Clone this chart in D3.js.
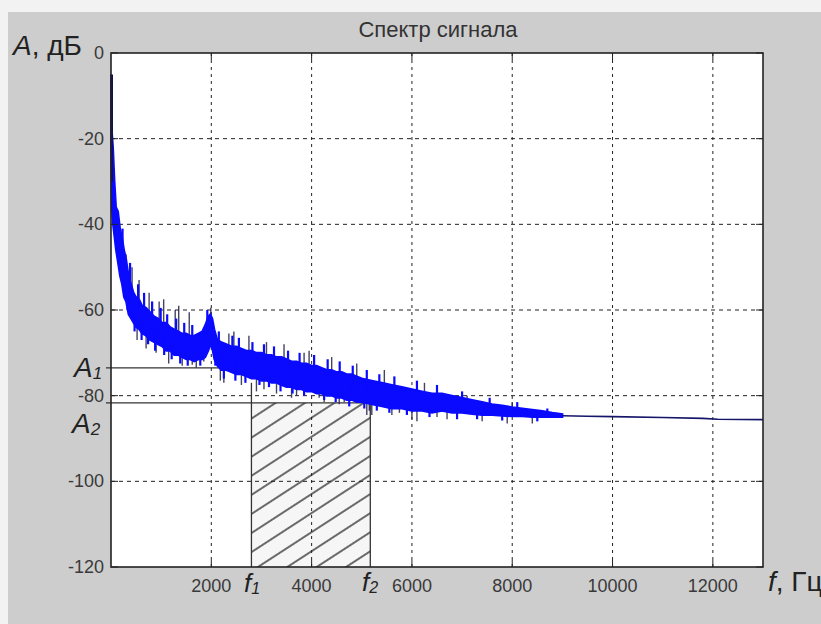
<!DOCTYPE html>
<html>
<head>
<meta charset="utf-8">
<script src="https://cdn.jsdelivr.net/npm/d3@7"></script>
<style>
  body { margin: 0; background: #ffffff; }
  svg text { font-family: "Liberation Sans", Arial, Helvetica, sans-serif; }
</style>
</head>
<body>
<div id="chart"></div>
<script>
// spectrum band: frequency (Hz), upper and lower edge (dB)
var specFreq = [0, 15, 40, 70, 100, 140, 180, 220, 260, 300, 350, 400, 450, 500, 560, 620, 700, 780, 860, 940,
  1020, 1100, 1180, 1260, 1340, 1420, 1500, 1580, 1660, 1740, 1820, 1880, 1940, 1980, 2020, 2060, 2120, 2200, 2300, 2400,
  2500, 2600, 2700, 2800, 2900, 3000, 3100, 3200, 3300, 3400, 3500, 3600, 3700, 3800, 3900, 4000, 4100, 4200, 4300, 4400,
  4500, 4600, 4700, 4800, 4900, 5000, 5200, 5400, 5600, 5800, 6000, 6200, 6400, 6600, 6800, 7000, 7200, 7400, 7600, 7800,
  8000, 8200, 8400, 8600, 8800, 9000];
var specHi = [-5, -18, -22, -30, -36, -37, -41, -43, -46, -48, -52, -54, -56, -57, -57.5, -59, -59.5, -60.5, -61.5, -62,
  -63, -63, -64, -64.5, -65, -65.5, -65.5, -66, -66, -65.5, -65, -63.5, -61.5, -61, -62, -64.5, -67, -67.5, -68, -68.5,
  -68.5, -69, -69.5, -69.5, -70, -70, -70.5, -70.5, -71, -71, -71.5, -72, -72, -72.5, -72.5, -73, -73, -73.5, -74, -74,
  -74.5, -74.5, -75, -75, -75.5, -76, -76.5, -77, -77.5, -78, -78.5, -79, -79.5, -79.5, -80, -80.5, -81, -81.5, -82, -82.3,
  -82.7, -83, -83.3, -83.6, -84, -84.3];
var specLo = [-22, -36, -40, -43, -46, -49, -52, -54, -57, -58, -61, -62, -63, -64, -64.5, -65.5, -66, -67, -67.5, -68,
  -68.5, -69.5, -69.5, -70.5, -70.5, -71, -71.5, -71.5, -72, -71.5, -71.5, -71, -69.5, -68, -69, -71.5, -73, -74, -74, -74.5,
  -75, -75, -75.5, -76, -76, -76.5, -76.5, -77, -77, -77.5, -78, -78, -78.5, -78.5, -79, -79, -79.5, -79.5, -80, -80,
  -80.5, -80.5, -81, -81, -81.5, -81.5, -82, -82.5, -83, -83, -83.5, -83.5, -84, -83.5, -84, -84, -84.3, -84.5, -84.5, -84.7,
  -84.8, -84.8, -85, -85, -85, -85];
// flat tail of the spectrum
var tailFreq = [9000, 9500, 10000, 11000, 11800, 12100, 13000];
var tailDb = [-84.7, -84.8, -84.9, -85.1, -85.3, -85.5, -85.6];
// short blue noise spikes at the band edges: frequency (Hz), tip (dB)
var noiseFreq = [230, 330, 380, 470, 540, 610, 660, 740, 820, 880, 990, 1060, 1120, 1210, 1300, 1380, 1460, 1530, 1620, 1780,
  1920, 2080, 2150, 2250, 2420, 2480, 2550, 2680, 2820, 2960, 3050, 3150, 3250, 3380, 3530, 3620, 3760, 3850, 4050, 4250,
  4320, 4480, 4560, 4750, 4820, 5050, 5100, 5300, 5350, 5550, 5650, 5900, 6100, 6350, 6500, 6900, 7000, 7300, 7550, 7800,
  8100, 8500, 8700];
var noiseDb = [-41, -60, -49, -65, -54, -67, -56, -68, -58, -69.5, -59.5, -70.5, -61, -71.5, -62, -72.5, -63, -73, -63.5, -73,
  -60, -73, -65, -76, -66, -76.5, -66.5, -77, -67.5, -77.5, -68, -78, -68.5, -79, -69.5, -79.5, -70, -80, -70.5, -81,
  -71.5, -81.5, -72, -82.5, -73, -83, -74, -83.5, -75, -84, -75.5, -84.5, -76.5, -85, -77.5, -85.5, -79, -85.5, -80.5, -85.8,
  -81.5, -86, -83];
// dark spikes sticking out of the band: frequency (Hz), tip (dB)
var spikeFreq = [300, 420, 520, 560, 700, 760, 900, 960, 1050, 1150, 1280, 1350, 1420, 1560, 1620, 1700, 1850, 1990, 2180, 2250,
  2350, 2450, 2600, 2750, 2900, 3050, 3100, 3300, 3450, 3600, 3700, 3850, 3950, 4150, 4250, 4400, 4550, 4650, 4900, 5100,
  5150, 5200, 5450, 5600, 5750, 6000, 6100, 6250, 6500, 6700, 7100, 7400, 7900, 8000, 8400];
var spikeDb = [-47, -50, -67, -53, -69, -56, -70, -58, -57.5, -72.5, -60, -59, -73, -60.5, -72.8, -73.5, -72, -59.5, -76.5, -77,
  -65.5, -65, -77.5, -66, -79, -78.5, -67.5, -79.5, -68, -80.5, -80, -70, -69.5, -80.5, -81.5, -71, -82, -81.5, -72.5, -84.5,
  -83.5, -84.5, -74, -84.5, -84, -85.5, -86, -77, -85, -85.5, -80, -86, -86.5, -81.5, -86.5];

var xTicks = [2000, 4000, 6000, 8000, 10000, 12000];
var yTicks = [0, -20, -40, -60, -80, -100, -120];
var f1 = 2800, f2 = 5170;
var A1 = -73.5, A2 = -81.7;

var W = 821, H = 624;
var pL = 111, pT = 53, pR = 763, pB = 567;

var svg = d3.select("#chart")
  .append("svg")
  .attr("width", W)
  .attr("height", H);

// grey figure background
svg.append("rect").attr("x", 0).attr("y", 0).attr("width", W).attr("height", H).attr("fill", "#f2f2f2");
svg.append("rect").attr("x", 8).attr("y", 12).attr("width", W - 8).attr("height", H - 12).attr("fill", "#cdcdcd");

var x = d3.scaleLinear().domain([0, 13000]).range([pL, pR]);
var y = d3.scaleLinear().domain([-120, 0]).range([pB, pT]);

svg.append("rect")
  .attr("x", pL).attr("y", pT)
  .attr("width", pR - pL).attr("height", pB - pT)
  .attr("fill", "#ffffff");

// hatch pattern for the f1..f2 band
var defs = svg.append("defs");
var pat = defs.append("pattern")
  .attr("id", "hatch")
  .attr("patternUnits", "userSpaceOnUse")
  .attr("width", 16).attr("height", 16)
  .attr("patternTransform", "rotate(-33)");
pat.append("rect").attr("width", 16).attr("height", 16).attr("fill", "#f6f6f6");
pat.append("line").attr("x1", -1).attr("x2", 17).attr("y1", 8).attr("y2", 8)
  .attr("stroke", "#2e2e2e").attr("stroke-width", 1.4);

svg.append("rect")
  .attr("x", x(f1)).attr("y", y(A2))
  .attr("width", x(f2) - x(f1)).attr("height", y(-120) - y(A2))
  .attr("fill", "url(#hatch)");

// grid
svg.append("g").selectAll("line")
  .data(xTicks).enter().append("line")
  .attr("x1", function(d) { return x(d); }).attr("x2", function(d) { return x(d); })
  .attr("y1", pT).attr("y2", pB)
  .attr("stroke", "#222").attr("stroke-width", 1)
  .style("stroke-dasharray", "3,4");
svg.append("g").selectAll("line")
  .data(yTicks.slice(1, -1)).enter().append("line")
  .attr("x1", pL).attr("x2", pR)
  .attr("y1", function(d) { return y(d); }).attr("y2", function(d) { return y(d); })
  .attr("stroke", "#222").attr("stroke-width", 1)
  .style("stroke-dasharray", "4,4");

// A1 / A2 and f1 / f2 marker lines
svg.append("line").attr("x1", pL - 5).attr("x2", x(2200)).attr("y1", y(A1)).attr("y2", y(A1))
  .attr("stroke", "#333").attr("stroke-width", 1.3);
svg.append("line").attr("x1", pL - 5).attr("x2", x(f2)).attr("y1", y(A2)).attr("y2", y(A2))
  .attr("stroke", "#333").attr("stroke-width", 1.3);
svg.append("line").attr("x1", x(f1)).attr("x2", x(f1)).attr("y1", y(-77)).attr("y2", pB)
  .attr("stroke", "#333").attr("stroke-width", 1.3);
svg.append("line").attr("x1", x(f2)).attr("x2", x(f2)).attr("y1", y(-80.5)).attr("y2", pB)
  .attr("stroke", "#333").attr("stroke-width", 1.3);

// spectrum
function bandMid(f) {
  var j = Math.min(d3.bisectLeft(specFreq, f), specFreq.length - 1);
  return (specHi[j] + specLo[j]) / 2;
}

svg.append("g").selectAll("line")
  .data(spikeFreq).enter().append("line")
  .attr("x1", function(d) { return x(d); }).attr("x2", function(d) { return x(d); })
  .attr("y1", function(d) { return y(bandMid(d)); })
  .attr("y2", function(d, i) { return y(spikeDb[i]); })
  .attr("stroke", "#23234a").attr("stroke-width", 1.4)
  .attr("opacity", 0.85);

var band = d3.area()
  .x(function(d, i) { return x(specFreq[i]); })
  .y0(function(d, i) { return y(specLo[i]); })
  .y1(function(d, i) { return y(specHi[i]); });

svg.append("path")
  .datum(specFreq)
  .attr("d", band)
  .attr("fill", "#0a0aff")
  .attr("stroke", "#0a0aff")
  .attr("stroke-width", 2);

svg.append("g").selectAll("line")
  .data(noiseFreq).enter().append("line")
  .attr("x1", function(d) { return x(d); }).attr("x2", function(d) { return x(d); })
  .attr("y1", function(d) { return y(bandMid(d)); })
  .attr("y2", function(d, i) { return y(noiseDb[i]); })
  .attr("stroke", "#0a0aff").attr("stroke-width", 2.2);

svg.append("path")
  .datum(tailFreq)
  .attr("d", d3.line()
    .x(function(d) { return x(d); })
    .y(function(d, i) { return y(tailDb[i]); }))
  .attr("fill", "none")
  .attr("stroke", "#15156a")
  .attr("stroke-width", 1.6);

// first bin: dark vertical stroke at f = 0
svg.append("line").attr("x1", pL + 1).attr("x2", pL + 1).attr("y1", y(-5)).attr("y2", y(-30))
  .attr("stroke", "#12124a").attr("stroke-width", 2);

// frame and inward ticks
svg.append("rect")
  .attr("x", pL).attr("y", pT)
  .attr("width", pR - pL).attr("height", pB - pT)
  .attr("fill", "none").attr("stroke", "#222").attr("stroke-width", 1.6);

var tickLen = 7;
xTicks.forEach(function(d) {
  svg.append("line").attr("x1", x(d)).attr("x2", x(d)).attr("y1", pB).attr("y2", pB - tickLen).attr("stroke", "#222");
  svg.append("line").attr("x1", x(d)).attr("x2", x(d)).attr("y1", pT).attr("y2", pT + tickLen).attr("stroke", "#222");
});
yTicks.forEach(function(d) {
  svg.append("line").attr("x1", pL).attr("x2", pL + tickLen).attr("y1", y(d)).attr("y2", y(d)).attr("stroke", "#222");
  svg.append("line").attr("x1", pR).attr("x2", pR - tickLen).attr("y1", y(d)).attr("y2", y(d)).attr("stroke", "#222");
});

// tick labels
svg.append("g").selectAll("text")
  .data(xTicks).enter().append("text")
  .attr("x", function(d) { return x(d); })
  .attr("y", pB + 25)
  .attr("text-anchor", "middle")
  .style("font-size", "18px")
  .style("fill", "#3a3a3a")
  .text(function(d) { return d; });

svg.append("g").selectAll("text")
  .data(yTicks).enter().append("text")
  .attr("x", pL - 7)
  .attr("y", function(d) { return y(d) + 6; })
  .attr("text-anchor", "end")
  .style("font-size", "18px")
  .style("fill", "#3a3a3a")
  .text(function(d) { return d; });

// title
svg.append("text")
  .attr("x", 438).attr("y", 37)
  .attr("text-anchor", "middle")
  .style("font-size", "22px")
  .style("fill", "#333")
  .text("Спектр сигнала");

// axis names
var yName = svg.append("text").attr("x", 13).attr("y", 55).style("font-size", "28px").style("fill", "#222");
yName.append("tspan").style("font-style", "italic").text("A");
yName.append("tspan").text(", дБ");

var xName = svg.append("text").attr("x", 768).attr("y", 591).style("font-size", "28px").style("fill", "#222");
xName.append("tspan").style("font-style", "italic").text("f");
xName.append("tspan").text(", Гц");

// A1, A2, f1, f2 marks
function mark(px, py, letter, sub, size) {
  var t = svg.append("text").attr("x", px).attr("y", py).style("font-size", size + "px").style("fill", "#222");
  t.append("tspan").style("font-style", "italic").text(letter);
  t.append("tspan").style("font-style", "italic").style("font-size", Math.round(size * 0.6) + "px").attr("dy", 2).text(sub);
}
mark(74, 377, "A", "1", 28);
mark(72, 433, "A", "2", 28);
mark(244, 592, "f", "1", 26);
mark(362, 591, "f", "2", 26);
</script>
</body>
</html>
